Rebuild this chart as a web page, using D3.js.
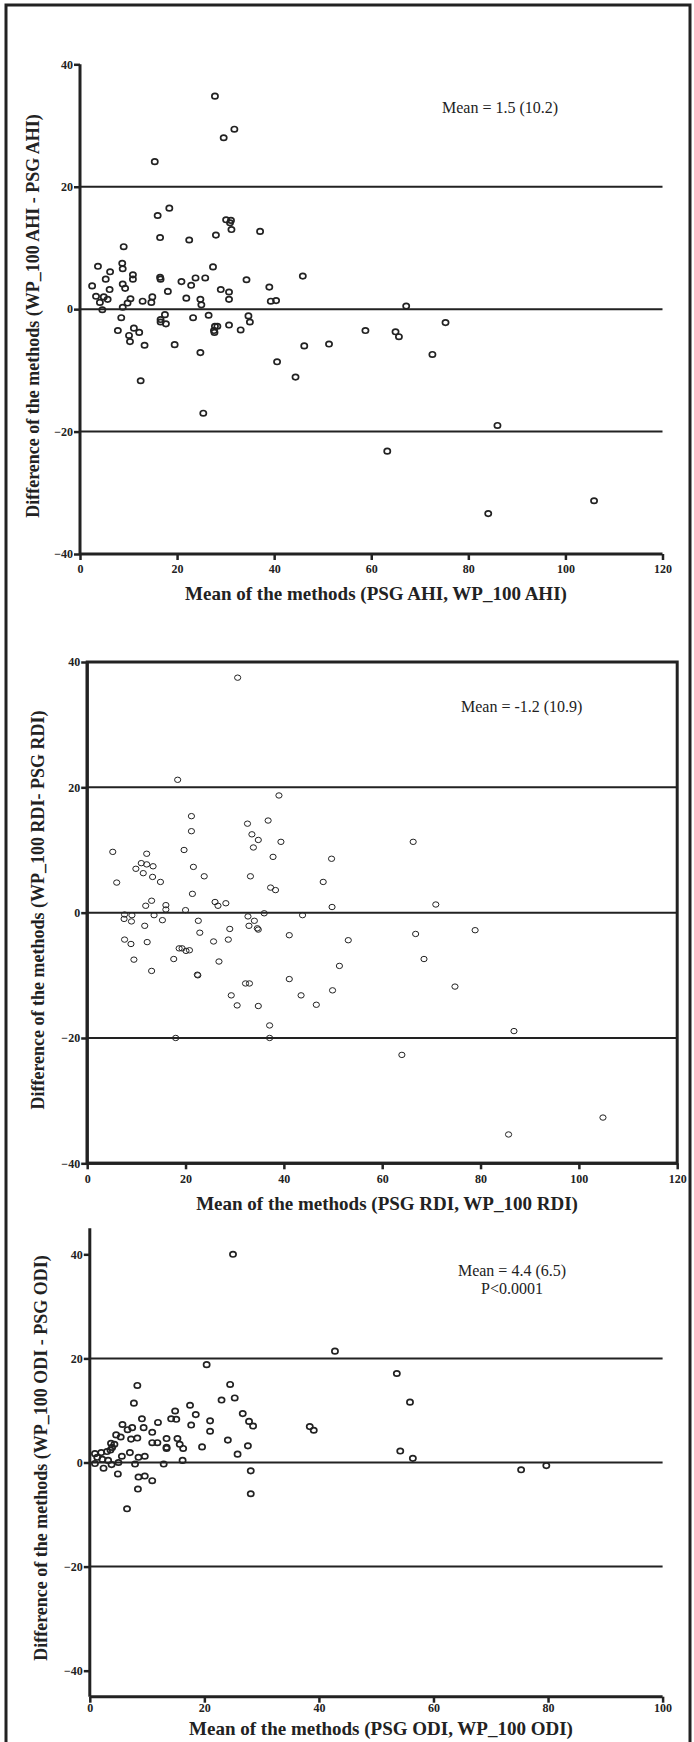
<!DOCTYPE html>
<html><head><meta charset="utf-8">
<script src="https://cdn.jsdelivr.net/npm/d3@7"></script>
<style>
body{margin:0;background:#fff;}
svg{display:block;}
text{font-family:"Liberation Serif","Times New Roman",serif;fill:#222;}
</style></head><body>
<svg id="c" width="694" height="1742"></svg>
<script>
// ---------- DATA ----------
const ahiMean = [27.8,31.8,29.6,15.4,18.4,16.0,30.1,31.1,30.9,31.2,37.1,28.0,16.5,22.5,9.0,27.4,45.9,3.7,8.7,8.8,6.2,10.9,2.5,5.3,10.9,16.5,16.6,23.8,25.8,34.3,20.9,22.9,39.0,8.8,9.3,6.1,18.1,29.0,30.7,3.3,4.9,5.7,4.1,10.4,9.8,12.9,14.9,14.7,21.9,24.8,25.0,30.7,39.3,40.4,4.6,8.8,67.2,8.5,17.5,16.6,16.6,17.7,23.3,26.5,34.7,35.0,30.7,27.8,28.3,27.6,27.7,33.1,75.3,7.8,11.1,12.2,10.1,10.3,13.3,19.5,58.8,65.0,65.7,46.2,51.3,72.6,24.8,40.6,44.4,12.5,25.4,86.0,63.3,84.1,105.9];
const ahiDiff = [34.8,29.4,28.0,24.1,16.5,15.3,14.6,14.5,14.1,13.0,12.7,12.1,11.7,11.3,10.2,6.9,5.4,7.0,7.5,6.6,6.1,5.6,3.8,4.9,4.9,5.2,4.9,5.1,5.1,4.8,4.5,3.9,3.6,4.1,3.4,3.2,2.9,3.2,2.8,2.1,2.0,1.6,1.1,1.7,1.0,1.3,2.0,1.1,1.8,1.6,0.7,1.6,1.3,1.4,-0.1,0.3,0.5,-1.4,-0.9,-1.7,-2.1,-2.4,-1.4,-1.0,-1.1,-2.1,-2.6,-2.8,-2.8,-3.5,-3.8,-3.4,-2.2,-3.5,-3.1,-3.8,-4.3,-5.3,-5.9,-5.8,-3.5,-3.7,-4.5,-6.0,-5.7,-7.4,-7.1,-8.6,-11.1,-11.7,-17.0,-19.0,-23.2,-33.4,-31.3];

const rdiMean = [30.6,18.4,39.0,21.2,32.6,36.8,21.2,33.5,34.8,33.8,39.4,66.3,5.2,12.1,19.7,37.8,49.7,11.0,12.1,13.4,21.6,9.9,11.4,13.3,23.8,33.2,6.0,14.9,48.0,37.3,38.3,21.4,13.1,11.9,16.0,16.0,20.0,26.0,26.6,28.2,49.8,70.9,36.0,43.8,7.6,9.1,13.6,7.5,9.0,15.3,22.6,32.7,34.0,11.7,29.0,34.6,34.8,32.9,78.9,66.8,22.9,41.1,7.6,8.9,12.2,25.7,28.7,53.1,18.7,19.3,20.1,20.8,9.5,17.6,26.8,68.5,51.3,13.1,22.4,22.5,41.1,32.2,33.0,49.9,74.8,29.3,43.5,30.5,34.8,46.6,37.1,37.1,18.0,86.8,64.0,85.7,104.9];
const rdiDiff = [37.5,21.2,18.7,15.4,14.2,14.7,13.0,12.5,11.6,10.4,11.3,11.3,9.7,9.4,10.0,8.9,8.6,7.9,7.7,7.4,7.3,7.0,6.3,5.7,5.8,5.8,4.8,4.9,4.9,4.0,3.6,3.0,1.9,1.1,1.2,0.5,0.4,1.7,1.1,1.5,0.9,1.3,-0.1,-0.4,-0.3,-0.4,-0.4,-1.0,-1.4,-1.2,-1.3,-0.6,-1.3,-2.1,-2.6,-2.5,-2.7,-2.1,-2.8,-3.4,-3.2,-3.6,-4.3,-5.0,-4.7,-4.6,-4.3,-4.4,-5.7,-5.7,-6.1,-6.0,-7.5,-7.4,-7.8,-7.4,-8.5,-9.3,-9.9,-10.0,-10.6,-11.3,-11.3,-12.4,-11.8,-13.2,-13.2,-14.8,-14.9,-14.7,-18.0,-20.0,-20.0,-18.9,-22.7,-35.4,-32.7];

const odiMean = [25.0,42.8,20.4,53.6,24.5,8.3,25.3,23.0,55.9,7.7,17.5,18.5,26.7,14.9,14.2,15.1,9.1,21.0,11.9,27.8,28.5,17.7,5.7,9.4,7.4,6.6,38.4,39.1,21.0,10.9,4.6,5.4,7.2,8.3,13.4,15.3,10.9,11.8,24.1,4.3,3.7,3.9,13.4,13.4,15.7,16.3,19.6,27.6,54.2,25.8,56.4,16.2,12.9,7.0,5.6,8.5,9.6,7.9,3.6,3.0,2.0,0.9,1.3,2.2,3.2,0.9,2.4,3.8,5.0,4.9,8.5,9.6,10.9,28.1,75.3,79.7,8.4,6.5,28.1];
const odiDiff = [40.0,21.4,18.8,17.1,15.0,14.8,12.4,12.0,11.6,11.4,11.0,9.2,9.4,9.9,8.4,8.3,8.4,8.0,7.7,7.9,7.0,7.2,7.3,6.7,6.7,6.3,6.9,6.2,6.0,5.8,5.3,4.9,4.5,4.7,4.6,4.6,3.8,3.8,4.3,3.5,3.7,2.9,2.9,2.7,3.5,2.7,3.0,3.2,2.2,1.6,0.8,0.4,-0.3,1.9,1.2,1.0,1.2,-0.3,2.4,2.1,1.9,1.7,1.0,0.6,0.4,-0.2,-1.1,-0.4,0.0,-2.2,-2.8,-2.6,-3.5,-1.6,-1.4,-0.6,-5.1,-8.9,-6.0];

const ticksX120 = [0,20,40,60,80,100,120];
const ticksX100 = [0,20,40,60,80,100];
const ticksY = [40,20,0,-20,-40];
const refLines = [20,0,-20];

const titles = [
  {y:"Difference of the methods (WP_100 AHI - PSG AHI)", x:"Mean of the methods (PSG AHI, WP_100 AHI)", note:["Mean = 1.5 (10.2)"]},
  {y:"Difference of the methods (WP_100 RDI- PSG RDI)", x:"Mean of the methods (PSG RDI, WP_100 RDI)", note:["Mean = -1.2 (10.9)"]},
  {y:"Difference of the methods (WP_100 ODI - PSG ODI)", x:"Mean of the methods (PSG ODI, WP_100 ODI)", note:["Mean = 4.4 (6.5)","P<0.0001"]}
];

// ---------- DRAW ----------
const svg = d3.select("#c");
svg.append("rect").attr("x",6).attr("y",5).attr("width",684).attr("height",1760)
  .attr("fill","none").attr("stroke","#222").attr("stroke-width",3);

const panels = [
  {xs:ahiMean, ys:ahiDiff, xd:[0,120], yd:[-40,40], xr:[80,662.5], yr:[554,64.3], xt:ticksX120, box:false,
   pw:1.7, yTitleX:33, yTitleY:316, xTitleX:376, xTitleY:600, tickLblY:577, noteX:442, noteY:113, noteAnchor:"start", t:titles[0]},
  {xs:rdiMean, ys:rdiDiff, xd:[0,120], yd:[-40,40], xr:[87.2,677.2], yr:[1163.3,662], xt:ticksX120, box:true,
   pw:1.0, yTitleX:38, yTitleY:910, xTitleX:387, xTitleY:1210, tickLblY:1187, noteX:461, noteY:712, noteAnchor:"start", t:titles[1]},
  {xs:odiMean, ys:odiDiff, xd:[0,100], yd:[-45,45], xr:[89.8,662.6], yr:[1696.7,1228.3], xt:ticksX100, box:false,
   pw:1.7, yTitleX:41, yTitleY:1458, xTitleX:381, xTitleY:1735, tickLblY:1716, noteX:512, noteY:1276, noteAnchor:"middle", t:titles[2]}
];

panels.forEach(p => {
  const x = d3.scaleLinear().domain(p.xd).range(p.xr);
  const y = d3.scaleLinear().domain(p.yd).range(p.yr);
  const g = svg.append("g");

  g.selectAll("line.ref").data(refLines).join("line")
    .attr("x1", p.xr[0]).attr("x2", x(p.xd[1]))
    .attr("y1", d=>y(d)).attr("y2", d=>y(d))
    .attr("stroke","#222").attr("stroke-width",2);

  const ax = d3.axisBottom(x).tickValues(p.xt).tickSize(6).tickFormat(d3.format("d"));
  const ay = d3.axisLeft(y).tickValues(ticksY).tickSize(6).tickFormat(d3.format("d"));
  const gx = g.append("g").attr("transform",`translate(0,${p.yr[0]})`).call(ax);
  const gy = g.append("g").attr("transform",`translate(${p.xr[0]},0)`).call(ay);
  [gx,gy].forEach(a=>{
    a.select(".domain").attr("stroke","#222").attr("stroke-width",3)
      .attr("d", a===gx ? `M${p.xr[0]},0H${p.xr[1]}` : `M0,${p.yr[0]}V${p.yr[1]}`);
    a.selectAll(".tick line").attr("stroke","#222").attr("stroke-width",2.5);
    a.selectAll(".tick text").attr("fill","#222").style("font-family",'"Liberation Serif",serif')
      .style("font-weight","bold").style("font-size","12px");
  });
  gx.selectAll(".tick text").attr("y", p.tickLblY - p.yr[0] - 4).attr("dy",0);
  gy.selectAll(".tick text").attr("x",-7);

  if (p.box) {
    g.append("rect").attr("x",p.xr[0]).attr("y",p.yr[1]).attr("width",p.xr[1]-p.xr[0]).attr("height",p.yr[0]-p.yr[1])
      .attr("fill","none").attr("stroke","#222").attr("stroke-width",3);
  }

  g.selectAll("ellipse.pt").data(p.xs.map((v,i)=>[v,p.ys[i]])).join("ellipse")
    .attr("cx",d=>x(d[0])).attr("cy",d=>y(d[1]))
    .attr("rx",3.1).attr("ry",2.7)
    .attr("fill","none").attr("stroke","#222").attr("stroke-width",p.pw);

  g.append("text").attr("transform",`translate(${p.yTitleX},${p.yTitleY}) rotate(-90)`)
    .attr("text-anchor","middle").attr("dy","0.35em")
    .style("font-weight","bold").style("font-size","18px").text(p.t.y);
  g.append("text").attr("x",p.xTitleX).attr("y",p.xTitleY)
    .attr("text-anchor","middle").style("font-weight","bold").style("font-size","19px").text(p.t.x);
  p.t.note.forEach((s,i)=>{
    g.append("text").attr("x",p.noteX).attr("y",p.noteY + i*18)
      .attr("text-anchor",p.noteAnchor).style("font-size","16px").text(s);
  });
});
</script></body></html>
